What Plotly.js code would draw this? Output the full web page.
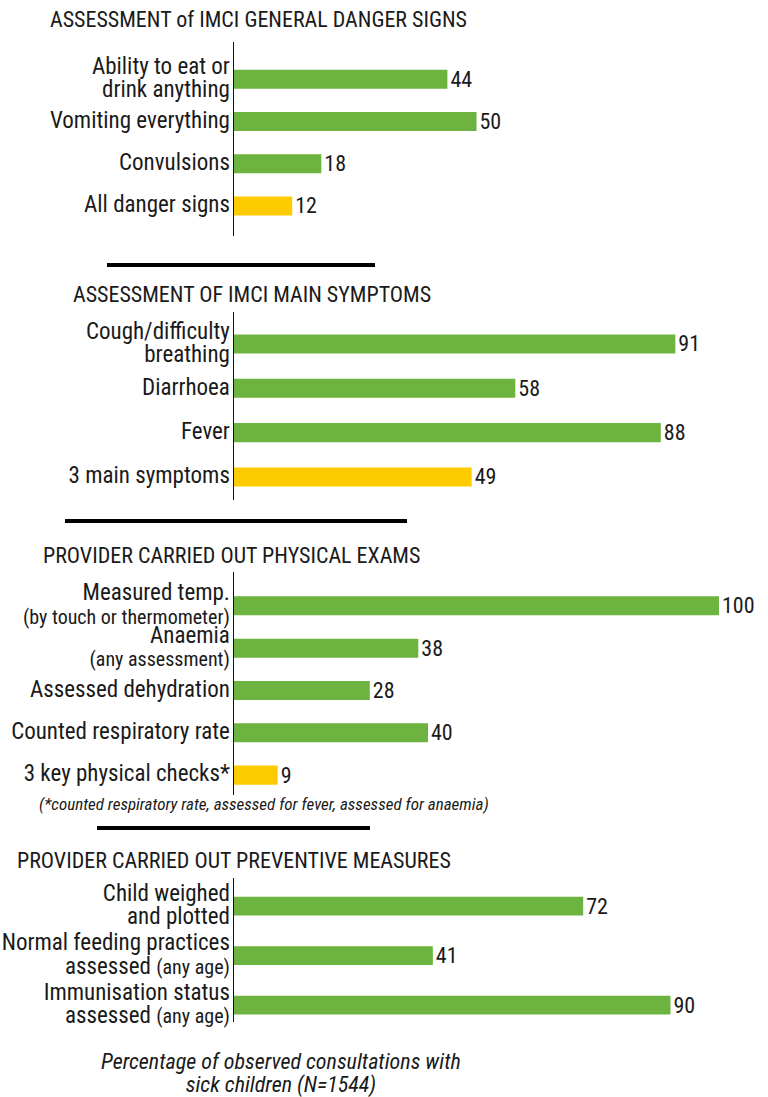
<!DOCTYPE html>
<html>
<head>
<meta charset="utf-8">
<script src="https://cdn.plot.ly/plotly-3.0.1.min.js"></script>
<style>html,body{margin:0;padding:0;background:#fff;}#chart{width:768px;height:1097px;}</style>
</head>
<body>
<div id="chart"></div>
<script>
// ---- Data ----
const titles = [
  "ASSESSMENT of IMCI GENERAL DANGER SIGNS",
  "ASSESSMENT OF IMCI MAIN SYMPTOMS",
  "PROVIDER CARRIED OUT PHYSICAL EXAMS",
  "PROVIDER CARRIED OUT PREVENTIVE MEASURES"
];
const dangerCats = ["Ability to eat or\ndrink anything", "Vomiting everything", "Convulsions", "All danger signs"];
const dangerVals = [44, 50, 18, 12];
const symptomCats = ["Cough/difficulty\nbreathing", "Diarrhoea", "Fever", "3 main symptoms"];
const symptomVals = [91, 58, 88, 49];
const examCats = ["Measured temp.\n(by touch or thermometer)", "Anaemia\n(any assessment)", "Assessed dehydration", "Counted respiratory rate", "3 key physical checks*"];
const examVals = [100, 38, 28, 40, 9];
const prevCats = ["Child weighed\nand plotted", "Normal feeding practices\nassessed (any age)", "Immunisation status\nassessed (any age)"];
const prevVals = [72, 41, 90];
const summaryFlags = [[0,0,0,1],[0,0,0,1],[0,0,0,0,1],[0,0,0]];
const footnote = "(*counted respiratory rate, assessed for fever, assessed for anaemia)";
const caption = "Percentage of observed consultations with\nsick children (N=1544)";

// ---- Styling / layout ----
const W = 768, H = 1097;
const FONT = "'Roboto Condensed', 'Liberation Sans Narrow', Roboto, sans-serif";
const GREEN = "#6cb33f", YELLOW = "#fdcb00", INK = "#1a1a1a";
const BASE = 18;   // base size sets line spacing (1.3 x base)
const LBL = 23, PAREN = 20;
function fmt(s) {
  return s.split("\n").map(line => {
    const parts = line.split(/(\([^)]*\))/).filter(x => x.length);
    return parts.map(pt => '<span style="font-size:' + (pt.startsWith("(") ? PAREN : LBL) + 'px">' + pt + '</span>').join("");
  }).join("<br>");
}
function dom(topPx, botPx) { return [(H - botPx) / H, (H - topPx) / H]; }
function f(size) { return {family: FONT, size: size, color: INK}; }
const xdom = [234 / W, 719 / W];

const panels = [
  {cats: dangerCats, vals: dangerVals, flags: summaryFlags[0], top: 42, bot: 236, range: [3.71, -0.88], width: 0.45},
  {cats: symptomCats, vals: symptomVals, flags: summaryFlags[1], top: 312, bot: 500, range: [3.52, -0.72], width: 0.43},
  {cats: examCats, vals: examVals, flags: summaryFlags[2], top: 572, bot: 795, range: [4.47, -0.8], width: 0.45},
  {cats: prevCats, vals: prevVals, flags: summaryFlags[3], top: 878, bot: 1022, range: [2.34, -0.57], width: 0.38}
];
const titleY = [20, 295, 556, 860];
const titleX = [258, 252, 231, 234];
const seps = [[107, 375, 265], [65, 407, 521], [97, 370, 828]];

const traces = [];
const layout = {
  width: W, height: H,
  margin: {l: 0, r: 0, t: 0, b: 0},
  paper_bgcolor: "#fff", plot_bgcolor: "rgba(0,0,0,0)",
  showlegend: false,
  font: f(20),
  annotations: [], shapes: []
};

panels.forEach((p, i) => {
  const n = i === 0 ? "" : String(i + 1);
  traces.push({
    type: "bar", orientation: "h",
    x: p.vals, y: p.cats.map(fmt),
    xaxis: "x" + n, yaxis: "y" + n,
    width: p.width,
    marker: {color: p.flags.map(fl => fl ? YELLOW : GREEN)},
    text: p.vals.map(String), textposition: "outside",
    textfont: f(22),
    constraintext: "none", cliponaxis: false, hoverinfo: "skip"
  });
  layout["xaxis" + n] = {domain: xdom, range: [0, 100], visible: false, anchor: "y" + n, fixedrange: true};
  layout["yaxis" + n] = {
    domain: dom(p.top, p.bot), anchor: "x" + n, type: "category",
    range: p.range, showline: true, linecolor: "#111", linewidth: 1.5,
    showgrid: false, zeroline: false, ticks: "", ticklabelstandoff: -1,
    tickfont: f(BASE), fixedrange: true
  };
  layout.annotations.push({
    text: titles[i], xref: "paper", yref: "paper", x: titleX[i] / W, y: 1 - titleY[i] / H,
    xanchor: "center", yanchor: "middle", showarrow: false,
    font: f(22)
  });
});

seps.forEach(s => layout.shapes.push({
  type: "line", xref: "paper", yref: "paper",
  x0: s[0] / W, x1: s[1] / W, y0: 1 - s[2] / H, y1: 1 - s[2] / H,
  line: {color: "#000", width: 4}
}));

layout.annotations.push({
  text: "<i>" + footnote + "</i>", xref: "paper", yref: "paper",
  x: 264 / W, y: 1 - 804 / H, xanchor: "center", yanchor: "middle", showarrow: false,
  font: f(17)
});
layout.annotations.push({
  text: caption.split("\n").map(l => '<i><span style="font-size:22px">' + l + '</span></i>').join("<br>"),
  xref: "paper", yref: "paper",
  x: 281 / W, y: 1 - 1073 / H, xanchor: "center", yanchor: "middle", showarrow: false,
  font: f(BASE)
});

Plotly.newPlot("chart", traces, layout, {displayModeBar: false, staticPlot: true});
</script>
</body>
</html>
